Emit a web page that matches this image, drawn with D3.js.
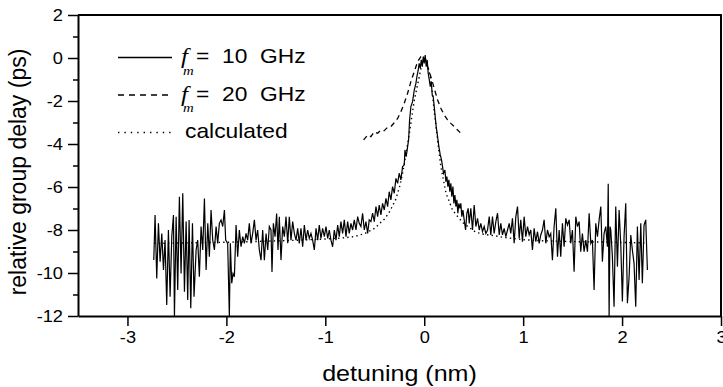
<!DOCTYPE html>
<html>
<head>
<meta charset="utf-8">
<script src="https://cdn.jsdelivr.net/npm/d3@7"></script>
<style>
  body { margin: 0; background: #fff; }
  svg { display: block; }
  text { font-family: "Liberation Sans", Arial, Helvetica, sans-serif; fill: #000; }
</style>
</head>
<body>
<div id="chart"></div>
<script>
// measured group delay, fm = 10 GHz  [detuning nm, delay ps]
const trace10GHz = [
  [-2.734,-9.40],[-2.721,-7.30],[-2.704,-10.25],[-2.687,-7.69],[-2.670,-9.47],[-2.653,-8.16],[-2.636,-9.86],[-2.620,-8.47],
  [-2.603,-11.49],[-2.586,-8.00],[-2.569,-11.10],[-2.552,-8.31],[-2.535,-7.30],[-2.525,-12.00],[-2.508,-7.38],[-2.492,-10.79],
  [-2.475,-6.45],[-2.458,-10.02],[-2.441,-6.29],[-2.424,-10.87],[-2.407,-7.61],[-2.391,-11.26],[-2.377,-7.53],[-2.360,-11.64],
  [-2.343,-7.69],[-2.327,-11.10],[-2.306,-8.93],[-2.290,-8.47],[-2.273,-10.17],[-2.256,-7.84],[-2.239,-8.93],[-2.222,-6.53],
  [-2.205,-9.86],[-2.188,-7.69],[-2.172,-9.24],[-2.155,-7.07],[-2.138,-8.47],[-2.121,-8.93],[-2.104,-7.84],[-2.088,-8.62],
  [-2.071,-7.69],[-2.054,-7.53],[-2.037,-7.84],[-2.020,-7.07],[-2.007,-8.47],[-1.987,-8.62],[-1.970,-12.00],[-1.960,-8.62],
  [-1.946,-10.48],[-1.933,-10.02],[-1.919,-10.17],[-1.902,-7.77],[-1.886,-9.24],[-1.869,-8.00],[-1.852,-8.78],[-1.835,-8.31],
  [-1.818,-8.62],[-1.801,-8.16],[-1.785,-8.47],[-1.768,-7.69],[-1.751,-8.62],[-1.734,-8.16],
  [-1.717,-7.53],[-1.700,-8.47],[-1.684,-8.00],[-1.667,-8.93],[-1.650,-9.40],[-1.633,-8.00],[-1.616,-9.40],[-1.599,-8.16],
  [-1.582,-8.93],[-1.566,-7.84],[-1.549,-8.00],[-1.539,-9.95],[-1.525,-7.69],[-1.508,-8.31],[-1.492,-7.23],[-1.478,-8.93],
  [-1.465,-7.38],[-1.448,-9.40],[-1.431,-7.84],[-1.414,-8.31],[-1.397,-7.38],[-1.380,-8.62],[-1.364,-7.38],[-1.347,-8.47],
  [-1.330,-7.61],[-1.313,-8.16],[-1.296,-8.47],[-1.279,-7.92],[-1.263,-8.62],[-1.246,-7.92],[-1.229,-8.78],[-1.212,-7.77],
  [-1.195,-8.47],[-1.178,-8.00],[-1.162,-8.39],[-1.145,-8.16],[-1.128,-8.47],[-1.111,-8.93],[-1.094,-7.92],[-1.077,-8.47],
  [-1.061,-7.77],[-1.044,-8.39],[-1.027,-7.92],[-1.010,-8.31],[-0.993,-7.84],[-0.976,-8.39],[-0.960,-8.00],[-0.943,-8.47],
  [-0.926,-8.78],[-0.909,-8.00],[-0.892,-8.47],[-0.875,-7.77],[-0.859,-8.31],[-0.842,-7.61],[-0.825,-8.16],[-0.808,-7.53],
  [-0.791,-8.31],[-0.774,-7.61],[-0.758,-8.16],[-0.741,-7.69],[-0.724,-8.00],[-0.707,-7.53],[-0.690,-8.00],[-0.673,-7.38],
  [-0.657,-7.69],
  [-0.640,-7.84],[-0.623,-7.22],[-0.606,-8.00],[-0.589,-7.61],[-0.572,-8.16],[-0.556,-7.53],[-0.539,-7.61],[-0.522,-7.22],
  [-0.505,-7.61],[-0.488,-6.91],[-0.471,-7.38],[-0.455,-6.84],[-0.438,-7.30],[-0.421,-6.76],[-0.404,-7.07],[-0.387,-6.53],
  [-0.370,-6.91],[-0.354,-6.22],[-0.337,-6.60],[-0.320,-5.98],[-0.303,-6.29],[-0.286,-5.60],[-0.269,-5.83],[-0.253,-5.36],
  [-0.236,-5.67],[-0.219,-5.05],[-0.202,-4.98],[-0.195,-4.28],[-0.182,-4.59],[-0.168,-4.12],[-0.158,-3.81],[-0.148,-2.88],
  [-0.135,-2.26],[-0.118,-2.03],[-0.101,-1.49],[-0.084,-1.18],[-0.074,-0.87],[-0.061,-0.56],[-0.051,-0.25],[-0.040,-0.48],
  [-0.030,-0.09],[-0.020,-0.40],[-0.010,0.06],[0.000,-0.25],[0.010,0.14],[0.020,-0.40],[0.030,-0.09],[0.040,-0.71],
  [0.051,-1.02],[0.061,-1.33],[0.071,-1.10],[0.081,-1.72],[0.091,-1.80],[0.101,-2.26],[0.111,-2.73],[0.121,-3.19],
  [0.135,-3.66],[0.148,-4.12],[0.162,-4.51],[0.175,-4.74],[0.185,-5.05],[0.195,-5.36],[0.209,-5.21],[0.219,-5.75],
  [0.229,-5.52],[0.239,-5.98],[0.249,-5.67],[0.259,-6.22],[0.269,-5.83],[0.279,-6.45],[0.290,-5.98],[0.300,-6.76],
  [0.310,-6.37],[0.320,-6.91],[0.330,-6.60],[0.340,-7.22],[0.350,-6.76],[0.360,-6.99],[0.370,-6.76],[0.380,-7.38],
  [0.391,-7.07],[0.404,-7.53],[0.418,-8.00],[0.431,-7.22],[0.444,-6.99],
  [0.455,-7.69],[0.471,-6.99],[0.488,-8.00],[0.505,-6.84],[0.522,-7.84],[0.539,-7.46],[0.556,-8.00],[0.572,-7.69],
  [0.589,-8.08],[0.606,-7.84],[0.623,-8.16],[0.640,-8.00],[0.657,-7.38],[0.673,-8.23],[0.690,-7.38],[0.707,-8.16],
  [0.724,-7.61],[0.741,-7.22],[0.758,-8.23],[0.774,-7.69],[0.791,-8.23],[0.808,-7.92],[0.825,-8.31],[0.842,-8.00],
  [0.859,-7.69],[0.875,-8.16],[0.892,-7.46],[0.909,-8.62],[0.926,-7.38],[0.943,-6.91],[0.960,-8.39],[0.976,-7.53],
  [0.993,-8.54],[1.010,-7.38],[1.027,-8.31],[1.044,-7.84],[1.061,-8.23],[1.077,-8.00],[1.094,-8.93],[1.111,-7.92],
  [1.128,-8.54],[1.145,-8.08],[1.162,-8.62],[1.178,-8.23],[1.195,-8.00],[1.212,-7.53],[1.229,-8.62],[1.246,-8.00],
  [1.263,-8.31],[1.279,-8.16],[1.296,-9.40],[1.313,-7.84],[1.330,-6.99],[1.347,-9.24],[1.364,-8.00],[1.380,-9.24],
  [1.397,-7.69],[1.414,-8.78],[1.431,-7.46],[1.448,-7.77],[1.465,-7.53],[1.481,-8.62],[1.498,-8.00],
  [1.515,-9.94],[1.532,-7.38],[1.549,-7.84],[1.566,-7.61],[1.582,-9.01],[1.599,-8.16],[1.616,-9.01],[1.633,-8.47],
  [1.650,-9.01],[1.667,-7.22],[1.684,-8.62],[1.700,-8.47],[1.717,-10.79],[1.734,-7.69],[1.751,-8.31],[1.768,-7.53],
  [1.785,-6.91],[1.801,-9.47],[1.818,-8.16],[1.835,-7.84],[1.852,-8.78],[1.860,-5.85],[1.869,-12.00],[1.878,-7.84],
  [1.886,-8.00],[1.902,-9.24],[1.919,-11.57],[1.936,-6.91],[1.953,-9.71],[1.970,-7.07],[1.987,-8.70],[2.003,-11.33],
  [2.020,-8.31],[2.037,-6.76],[2.054,-11.41],[2.071,-10.17],[2.088,-8.23],[2.104,-8.93],[2.121,-9.55],[2.138,-11.57],
  [2.155,-7.84],[2.172,-10.33],[2.189,-7.69],[2.205,-10.48],[2.222,-7.77],[2.239,-7.53],[2.256,-9.86]
];

// measured group delay, fm = 20 GHz
const trace20GHz = [
  [-0.613,-3.81],[-0.572,-3.58],[-0.539,-3.66],[-0.505,-3.43],[-0.471,-3.50],[-0.438,-3.35],[-0.404,-3.38],
  [-0.370,-3.22],[-0.337,-3.19],[-0.303,-3.01],[-0.269,-2.81],[-0.236,-2.50],[-0.202,-2.11],[-0.168,-1.64],
  [-0.135,-1.10],[-0.101,-0.64],[-0.067,-0.17],[-0.034,0.06],[-0.017,0.14],[0.000,-0.02],[0.034,-0.40],
  [0.067,-0.87],[0.101,-1.41],[0.135,-1.95],[0.168,-2.34],[0.202,-2.65],[0.236,-2.88],[0.269,-3.04],
  [0.303,-3.19],[0.337,-3.35],[0.364,-3.47]
];

// calculated group delay
const traceCalc = [
  [-2.73,-8.62],[-2.40,-8.60],[-2.00,-8.57],[-1.60,-8.52],[-1.30,-8.48],[-1.00,-8.42],[-0.80,-8.36],[-0.70,-8.30],
  [-0.60,-8.16],[-0.50,-7.92],[-0.40,-7.48],[-0.35,-7.15],[-0.29,-6.60],[-0.25,-6.00],[-0.22,-5.40],[-0.19,-4.60],
  [-0.15,-3.50],[-0.12,-2.55],[-0.10,-1.95],[-0.07,-1.30],[-0.05,-0.87],[-0.03,-0.40],[-0.015,-0.15],[0.00,0.00],
  [0.02,-0.12],[0.04,-0.45],[0.067,-1.02],[0.10,-2.42],[0.135,-3.81],[0.168,-5.05],[0.22,-6.29],[0.286,-7.07],
  [0.35,-7.45],[0.40,-7.70],[0.52,-8.10],[0.60,-8.20],[0.70,-8.26],[0.80,-8.34],[1.00,-8.45],[1.20,-8.50],
  [1.50,-8.54],[1.80,-8.56],[2.00,-8.58],[2.25,-8.60]
];

const xTicks = [-3, -2, -1, 0, 1, 2, 3];
const yTicks = [2, 0, -2, -4, -6, -8, -10, -12];
const yMinorTicks = [1, -1, -3, -5, -7, -9, -11];

const cfg = {
  width: 723,
  height: 387,
  margin: { left: 78, right: 2, top: 15, bottom: 71 },
  stretch: 1.14   // the lettering in the figure is a bit wider than plain Arial
};

const xScale = d3.scaleLinear([-3.5, 3], [cfg.margin.left, cfg.width - cfg.margin.right]);
const yScale = d3.scaleLinear([-12, 2], [cfg.height - cfg.margin.bottom, cfg.margin.top]);

const svg = d3.select('#chart')
  .append('svg')
  .attr('width', cfg.width)
  .attr('height', cfg.height)
  .attr('viewBox', [0, 0, cfg.width, cfg.height]);

const line = d3.line()
  .x(d => xScale(d[0]))
  .y(d => yScale(d[1]));

// data lines
svg.append('path')
  .attr('d', line(traceCalc))
  .style('fill', 'none')
  .style('stroke', '#000')
  .style('stroke-width', 1.4)
  .style('stroke-dasharray', '1.4,3.2');

svg.append('path')
  .attr('d', line(trace20GHz))
  .style('fill', 'none')
  .style('stroke', '#000')
  .style('stroke-width', 1.3)
  .style('stroke-dasharray', '5,4');

svg.append('path')
  .attr('d', line(trace10GHz))
  .style('fill', 'none')
  .style('stroke', '#000')
  .style('stroke-width', 1.2);

// axes
const xAxis = d3.axisBottom(xScale).tickValues(xTicks).tickFormat(d => String(d))
  .tickSize(10).tickSizeOuter(0).tickPadding(6);
const yAxis = d3.axisLeft(yScale).tickValues(yTicks).tickFormat(d => String(d))
  .tickSize(10).tickSizeOuter(0).tickPadding(5);
const yMinor = d3.axisLeft(yScale).tickValues(yMinorTicks).tickSize(5).tickSizeOuter(0).tickFormat('');

const gx = svg.append('g')
  .attr('transform', `translate(0, ${cfg.height - cfg.margin.bottom})`)
  .call(xAxis);
const gy = svg.append('g')
  .attr('transform', `translate(${cfg.margin.left}, 0)`)
  .call(yAxis);
const gyMinor = svg.append('g')
  .attr('transform', `translate(${cfg.margin.left}, 0)`)
  .call(yMinor);
gyMinor.select('.domain').remove();

[gx, gy, gyMinor].forEach(g => {
  g.selectAll('.tick line').style('stroke', '#000').style('stroke-width', 1.5);
  g.select('.domain').style('stroke', '#000').style('stroke-width', 2);
  g.selectAll('text')
    .style('font-family', '"Liberation Sans", Arial, sans-serif')
    .style('font-size', '16px')
    .style('fill', '#000')
    .attr('transform', `scale(${cfg.stretch},1)`);
});
gy.selectAll('.tick text').attr('x', -15 / cfg.stretch);

// frame top and right
svg.append('path')
  .attr('d', `M${xScale(-3.5)},${yScale(2)}H${xScale(3)}V${yScale(-12)}`)
  .style('fill', 'none')
  .style('stroke', '#000')
  .style('stroke-width', 2);

// axis titles
svg.append('text')
  .attr('transform', `translate(${(cfg.margin.left + cfg.width - cfg.margin.right) / 2}, 381) scale(${cfg.stretch},1)`)
  .attr('text-anchor', 'middle')
  .style('font-size', '22px')
  .text('detuning (nm)');

svg.append('text')
  .attr('transform', 'translate(26, 172) rotate(-90)')
  .attr('text-anchor', 'middle')
  .style('font-size', '23px')
  .text('relative group delay (ps)');

// legend
const legendRows = [
  { dash: null, label: '10  GHz', fm: true },
  { dash: '6,5', label: '20  GHz', fm: true },
  { dash: '1.4,5', label: 'calculated', fm: false }
];
const legend = svg.append('g');

function legendText(x, y, str, size, serif) {
  const t = legend.append('text')
    .attr('transform', `translate(${x}, ${y}) scale(${cfg.stretch},1)`)
    .style('font-size', size + 'px')
    .style('white-space', 'pre')
    .text(str);
  if (serif) {
    t.style('font-family', '"Liberation Serif", "Times New Roman", serif')
      .style('font-style', 'italic');
  }
  return t;
}

legendRows.forEach((r, i) => {
  const ly = 57.5 + i * 37.5;
  legend.append('line')
    .attr('x1', 118).attr('x2', 172)
    .attr('y1', ly).attr('y2', ly)
    .style('stroke', '#000')
    .style('stroke-width', 1.3)
    .style('stroke-dasharray', r.dash);
  if (r.fm) {
    legendText(181, ly + 5.5, 'f', 22, true);
    legendText(183, ly + 17, 'm', 13, true);
    legendText(196, ly + 5.5, '=', 20, false);
    legendText(222, ly + 5.5, r.label, 20, false);
  } else {
    legendText(185, ly + 5.5, r.label, 20, false);
  }
});
</script>
</body>
</html>
